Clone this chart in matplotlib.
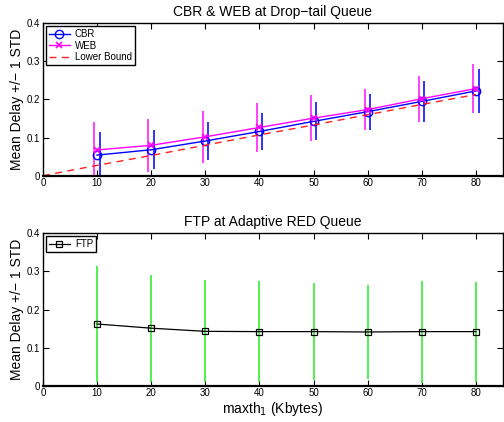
import matplotlib
matplotlib.use('Agg')
import matplotlib.pyplot as plt

plt.rcParams['font.family'] = ['Liberation Sans', 'DejaVu Sans']

# buffer threshold (Kbytes)
maxth = [10, 20, 30, 40, 50, 60, 70, 80]

# drop-tail queue: mean delay and std
cbr_mean = [0.054, 0.068, 0.091, 0.116, 0.1425, 0.168, 0.195, 0.2225]
cbr_std = [0.061, 0.051, 0.050, 0.049, 0.050, 0.047, 0.053, 0.057]
web_mean = [0.0675, 0.0797, 0.102, 0.1265, 0.151, 0.1735, 0.202, 0.2287]
web_std = [0.074, 0.069, 0.068, 0.0635, 0.060, 0.053, 0.060, 0.0635]
bound_x = [0, 10, 20, 30, 40, 50, 60, 70, 80]
bound_y = [0, 0.027, 0.053, 0.080, 0.107, 0.133, 0.160, 0.187, 0.213]

# adaptive RED queue
ftp_mean = [0.162, 0.151, 0.1427, 0.142, 0.142, 0.141, 0.142, 0.142]
ftp_std = [0.152, 0.140, 0.134, 0.133, 0.128, 0.123, 0.134, 0.131]

yticks = [0, 0.1, 0.2, 0.3, 0.4]
ytick_labels = ['0', '0.1', '0.2', '0.3', '0.4']
xticks = [0, 10, 20, 30, 40, 50, 60, 70, 80]


def style_axes(ax, title):
    ax.set_xlim(0, 85)
    ax.set_ylim(0, 0.4)
    ax.set_xticks(xticks)
    ax.set_yticks(yticks)
    ax.set_yticklabels(ytick_labels)
    ax.tick_params(direction='in', top=True, right=True, labelsize=7,
                   length=4, width=0.8, pad=2)
    for s in ax.spines.values():
        s.set_linewidth(1.0)
    ax.spines['bottom'].set_linewidth(1.6)
    ax.set_title(title, fontsize=10, pad=5)
    ax.set_ylabel('Mean Delay +/\u2212 1 STD', fontsize=10, labelpad=2)


fig = plt.figure(figsize=(5.04, 4.22), dpi=100)
ax1 = fig.add_axes([0.085, 0.5837, 0.913, 0.3611])
ax2 = fig.add_axes([0.085, 0.086, 0.913, 0.3611])

# top panel
web_x = [x - 0.5 for x in maxth]
cbr_x = [x + 0.5 for x in maxth]
ax1.vlines(web_x, [m - s for m, s in zip(web_mean, web_std)],
           [m + s for m, s in zip(web_mean, web_std)], color='#ff33ff', lw=1.3)
ax1.vlines(cbr_x, [m - s for m, s in zip(cbr_mean, cbr_std)],
           [m + s for m, s in zip(cbr_mean, cbr_std)], color='#2222ff', lw=1.3)
ax1.plot(maxth, cbr_mean, color='#0000ff', marker='o', ms=6, mfc='none',
         mew=1.0, lw=1.0, label='CBR')
ax1.plot(maxth, web_mean, color='#ff00ff', marker='x', ms=4.5, mew=1.2,
         lw=1.0, label='WEB')
ax1.plot(bound_x, bound_y, color='#ff2020', ls=(0, (5, 4)), lw=1.0,
         label='Lower Bound')
style_axes(ax1, 'CBR & WEB at Drop\u2212tail Queue')
leg = ax1.legend(loc='upper left', fontsize=7, fancybox=False, framealpha=1,
                 edgecolor='black', borderaxespad=0.3, handlelength=2.2,
                 labelspacing=0.15, borderpad=0.3, handletextpad=0.5)
leg.get_frame().set_linewidth(1.0)

# bottom panel
ax2.vlines(maxth, [m - s for m, s in zip(ftp_mean, ftp_std)],
           [m + s for m, s in zip(ftp_mean, ftp_std)], color='#44ee44', lw=1.3)
ax2.plot(maxth, ftp_mean, color='black', marker='s', ms=5, mfc='none',
         mew=0.9, lw=0.9, label='FTP')
style_axes(ax2, 'FTP at Adaptive RED Queue')
ax2.set_xlabel('maxth$_1$ (Kbytes)', fontsize=10, labelpad=1)
leg2 = ax2.legend(loc='upper left', fontsize=7, fancybox=False, framealpha=1,
                  edgecolor='black', borderaxespad=0.3, handlelength=2.2,
                  borderpad=0.3, handletextpad=0.5)
leg2.get_frame().set_linewidth(1.0)

fig.savefig('out.png', dpi=100)
